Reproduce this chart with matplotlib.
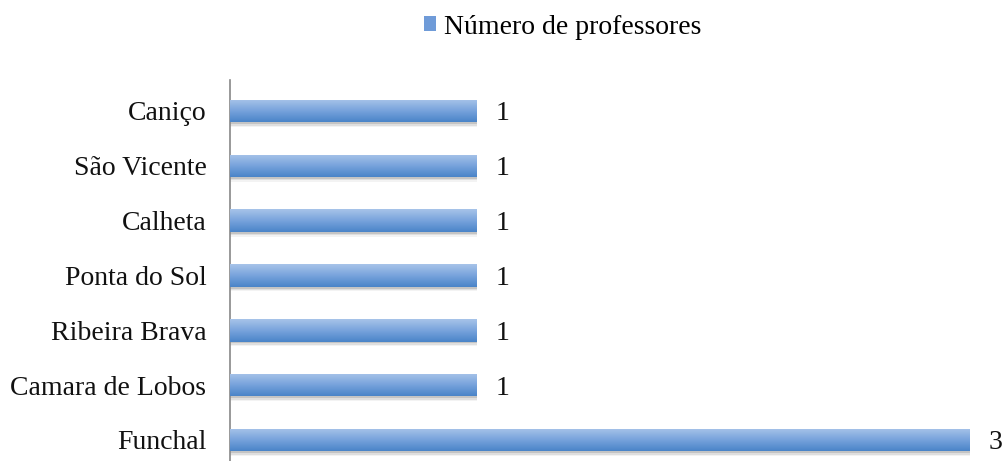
import matplotlib
matplotlib.use("Agg")
import matplotlib.pyplot as plt
import numpy as np
from matplotlib.patches import Patch
from matplotlib.colors import LinearSegmentedColormap

categories = ["Funchal", "Camara de Lobos", "Ribeira Brava", "Ponta do Sol", "Calheta", "São Vicente", "Caniço"]
values = [3, 1, 1, 1, 1, 1, 1]
series_name = "Número de professores"

plt.rcParams['font.family'] = ['Liberation Serif', 'DejaVu Serif']

fig = plt.figure(figsize=(10.04, 4.61), dpi=100)
ax = fig.add_axes([230/1004, 0.0, (970-230)/1004, 1 - 80/461])

y = np.arange(len(categories))
h = 0.41
# soft shadow beneath bars
for k, (dy, a) in enumerate([(0.035, 0.28), (0.06, 0.17), (0.085, 0.09)]):
    ax.barh(y - dy, values, height=h, left=0.0, color='#808080', alpha=a, zorder=1, linewidth=0)
bars = ax.barh(y, values, height=h, color='#6f9bd8', zorder=2, linewidth=0)

grad = np.linspace(0, 1, 256).reshape(-1, 1)
cmap = LinearSegmentedColormap.from_list('g', ['#4a84c8', '#78a3dc', '#a8c4e9'])
for b in bars:
    x0, y0 = b.get_x(), b.get_y()
    w, hh = b.get_width(), b.get_height()
    im = ax.imshow(grad, cmap=cmap, aspect='auto', origin='lower',
                   extent=(x0, x0 + w, y0, y0 + hh), zorder=3)
    im.set_clip_path(b)

for yi, v in zip(y, values):
    ax.text(v + 0.075, yi, str(v), va='center_baseline', ha='left', fontsize=20,
            color='#111111', clip_on=False)

ax.set_xlim(0, 3)
ax.set_ylim(-0.383, 6.565)
ax.set_yticks(y)
ax.set_yticklabels(categories, fontsize=20, color='#111111', va='center_baseline')
ax.tick_params(axis='y', length=0, pad=17)
ax.set_xticks([])
for s in ['top', 'right', 'bottom']:
    ax.spines[s].set_visible(False)
ax.spines['left'].set_color('#888888')
ax.spines['left'].set_linewidth(1.2)
ax.set_zorder(1)

handle = Patch(facecolor='#6f9bd8', edgecolor='none')
fig.legend([handle], [series_name], loc='center', bbox_to_anchor=(563/1004, 1 - 27/461),
           frameon=False, fontsize=20, handlelength=0.42, handleheight=0.42, handletextpad=0.3)

fig.savefig('out.png', dpi=100)
